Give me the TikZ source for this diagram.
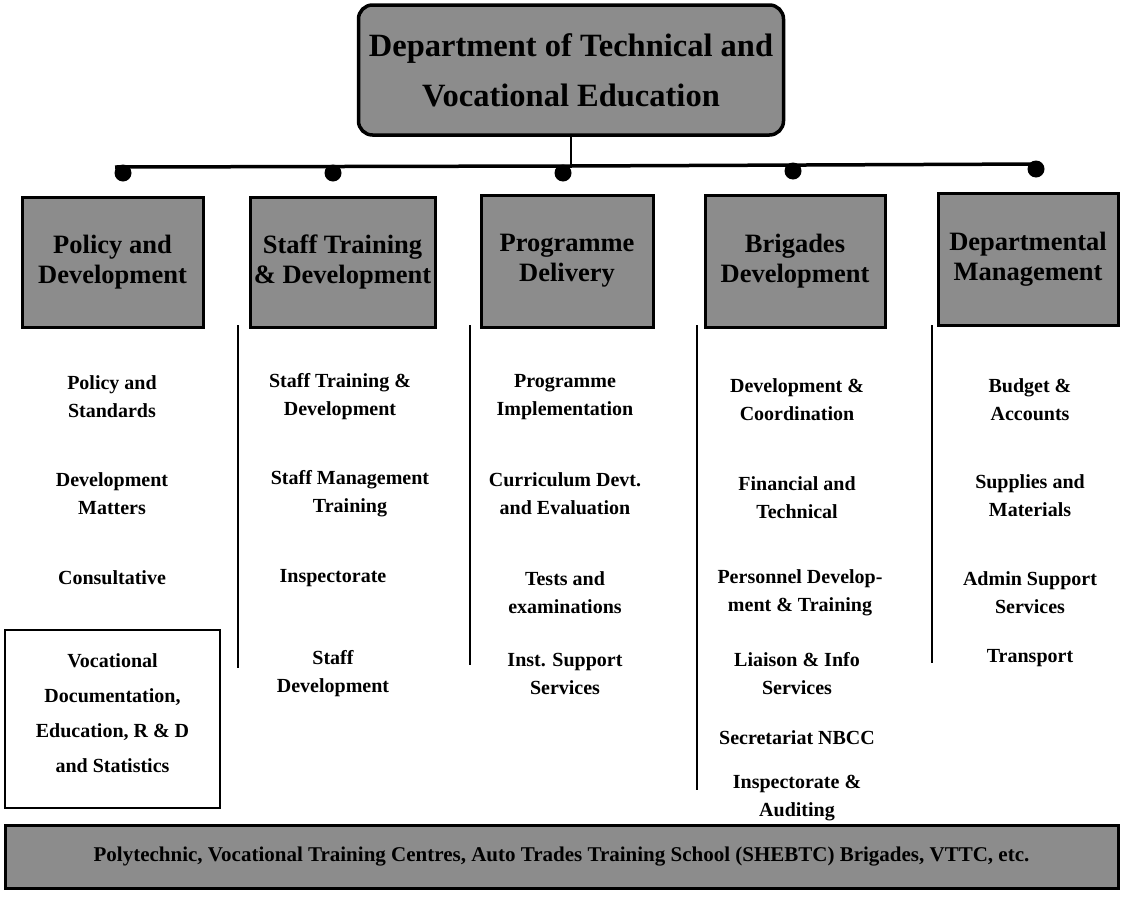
\documentclass[tikz,border=0pt]{standalone}
\usepackage{fontspec}
\setmainfont{Liberation Serif}
\begin{document}
\begin{tikzpicture}[x=1pt,y=-1pt,
  titlebox/.style={draw,line width=3.5pt,rounded corners=14pt,fill=black!45,minimum width=425pt,minimum height=130pt,font=\fontsize{32.5}{50}\selectfont\bfseries,align=center,inner sep=0pt},
  headbox/.style={draw,line width=3pt,fill=black!45,minimum height=130pt,font=\fontsize{26.5}{30}\selectfont\bfseries,align=center,inner sep=0pt},
  itemtext/.style={font=\fontsize{20}{28}\selectfont\bfseries,align=center,inner sep=0pt},
  busdot/.style={circle,fill=black,inner sep=0pt,minimum size=17pt},
  sepline/.style={line width=1.8pt},
  busline/.style={line width=3.5pt}]
\useasboundingbox (0,0) rectangle (1121,921);

% title
\node[titlebox] (top) at (571,70) {Department of Technical and\\Vocational Education};
\coordinate (J) at (571,166);
\coordinate (busL) at (115,167);
\coordinate (busR) at (1040,164);
\draw[line width=2.5pt] (top.south) -- (J);
\draw[busline] (busL) -- (J) -- (busR);

% dots
\node[busdot] (d1) at (123,173) {};
\node[busdot] (d2) at (333,173) {};
\node[busdot] (d3) at (563,173) {};
\node[busdot] (d4) at (793,171) {};
\node[busdot] (d5) at (1036,169) {};

% headers
\node[headbox,minimum width=181pt] (h1) at (112.5,262) {Policy and\\Development};
\node[headbox,minimum width=185pt] (h2) at (342.5,262) {Staff Training\\\& Development};
\node[headbox,minimum width=172pt,minimum height=132pt] (h3) at (567,261) {Programme\\Delivery};
\node[headbox,minimum width=180pt,minimum height=132pt] (h4) at (795,261) {Brigades\\Development};
\node[headbox,minimum width=180pt,minimum height=132pt] (h5) at (1028,259) {Departmental\\Management};

% separators
\coordinate (s1a) at (238,325); \coordinate (s1b) at (238,668);
\coordinate (s2a) at (470,325); \coordinate (s2b) at (470,665);
\coordinate (s3a) at (697,325); \coordinate (s3b) at (697,790);
\coordinate (s4a) at (932,325); \coordinate (s4b) at (932,663);
\draw[sepline] (s1a) -- (s1b);
\draw[sepline] (s2a) -- (s2b);
\draw[sepline] (s3a) -- (s3b);
\draw[sepline] (s4a) -- (s4b);

% column 1
\node[itemtext] (c1a) at (112,397) {Policy and\\Standards};
\node[itemtext] (c1b) at (112,494) {Development\\Matters};
\node[itemtext] (c1c) at (112,578) {Consultative};
\node[draw,line width=2pt,minimum width=215pt,minimum height=178pt,inner sep=0pt] (c1box) at (112.5,719) {};
\node[font=\fontsize{20}{35}\selectfont\bfseries,align=center] (c1d) at (112.5,713) {Vocational\\Documentation,\\Education, R \& D\\and Statistics};

% column 2
\node[itemtext] (c2a) at (340,397) {Staff Training \&\\Development};
\node[itemtext] (c2b) at (350,494) {Staff Management\\Training};
\node[itemtext] (c2c) at (333,578) {Inspectorate};
\node[itemtext] (c2d) at (333,674) {Staff\\Development};

% column 3
\node[itemtext] (c3a) at (565,397) {Programme\\Implementation};
\node[itemtext] (c3b) at (565,494) {Curriculum Devt.\\and Evaluation};
\node[itemtext] (c3c) at (565,593) {Tests and\\examinations};
\node[itemtext] (c3d) at (565,674) {Inst. Support\\Services};

% column 4
\node[itemtext] (c4a) at (797,400) {Development \&\\Coordination};
\node[itemtext] (c4b) at (797,498) {Financial and\\Technical};
\node[itemtext] (c4c) at (800,593) {Personnel Develop-\\ment \& Training};
\node[itemtext] (c4d) at (797,674) {Liaison \& Info\\Services};
\node[itemtext] (c4e) at (797,738) {Secretariat NBCC};
\node[itemtext] (c4f) at (797,798) {Inspectorate \&\\Auditing};

% column 5
\node[itemtext] (c5a) at (1030,400) {Budget \&\\Accounts};
\node[itemtext] (c5b) at (1030,496) {Supplies and\\Materials};
\node[itemtext] (c5c) at (1030,593) {Admin Support\\Services};
\node[itemtext] (c5d) at (1030,658) {Transport};

% bottom bar
\node[draw,line width=3pt,fill=black!45,minimum width=1113pt,minimum height=63pt,inner sep=0pt,font=\fontsize{21}{24}\selectfont\bfseries] (bar) at (561.5,856.5) {Polytechnic, Vocational Training Centres, Auto Trades Training School (SHEBTC) Brigades, VTTC, etc.};
\end{tikzpicture}
\end{document}
